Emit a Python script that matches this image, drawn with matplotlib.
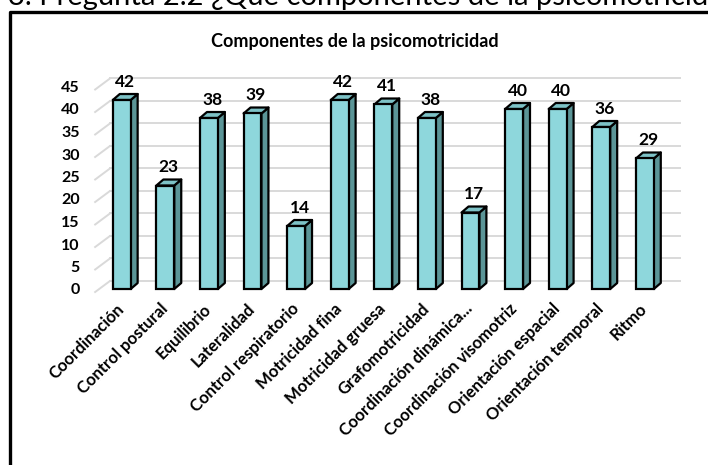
import matplotlib.pyplot as plt
from matplotlib.patches import Polygon
from matplotlib.lines import Line2D

# Datos del gráfico
componentes = ["Coordinación", "Control postural", "Equilibrio", "Lateralidad",
               "Control respiratorio", "Motricidad fina", "Motricidad gruesa",
               "Grafomotricidad", "Coordinación dinámica...", "Coordinación visomotriz",
               "Orientación espacial", "Orientación temporal", "Ritmo"]
valores = [42, 23, 38, 39, 14, 42, 41, 38, 17, 40, 40, 36, 29]
ticks_y = [0, 5, 10, 15, 20, 25, 30, 35, 40, 45]

titulo = "Componentes de la psicomotricidad"
encabezado = "3. Pregunta 2.2 ¿Qué componentes de la psicomotricidad tienen en cuenta?"

plt.rcParams['font.family'] = ['Lato', 'DejaVu Sans']

c_frente = "#8ED7DC"
c_lado = "#5B9597"
c_arriba = "#7DC2C6"
c_grid = "#D9D9D9"

W, H = 708, 465
fig = plt.figure(figsize=(W / 100, H / 100), dpi=100)

# encabezado del documento (recortado arriba)
fig.text(8 / W, 1 - 4.5 / H, encabezado, fontsize=21, va="baseline", ha="left")

# marco negro del gráfico
fig.add_artist(Line2D([10 / W, 10 / W, 1.0], [0.0, 1 - 12 / H, 1 - 12 / H],
                      color="black", lw=2.4, transform=fig.transFigure))

fig.text(355 / W, 1 - 42 / H, titulo, fontsize=13, fontweight="bold",
         ha="center", va="center")

ax = fig.add_axes([82.5 / W, (H - 298) / H, 601.6 / W, 225 / H])
ax.set_xlim(-0.9, 12.9)
ax.set_ylim(-2, 48)

x = list(range(len(valores)))
ancho = 0.41
dx, dy = 0.16, 1.33        # profundidad de las barras
pared_dx, pared_dy = 0.34, 1.78

# pared del fondo y lateral
for v in ticks_y:
    ax.plot([-0.27, 12.8], [v + pared_dy, v + pared_dy], color=c_grid, lw=1.4, zorder=1)
    ax.plot([-0.27 - pared_dx, -0.27], [v + pared_dy - 2.45, v + pared_dy],
            color=c_grid, lw=1.4, zorder=1)

ax.bar(x, valores, width=ancho, color=c_frente, edgecolor="black", linewidth=1.6, zorder=4)
for xi, v in zip(x, valores):
    r = xi + ancho / 2
    l = xi - ancho / 2
    ax.add_patch(Polygon([(r, 0), (r + dx, dy), (r + dx, v + dy), (r, v)],
                         closed=True, facecolor=c_lado, edgecolor="black",
                         linewidth=1.6, zorder=3, joinstyle="round"))
    ax.add_patch(Polygon([(l, v), (l + dx, v + dy), (r + dx, v + dy), (r, v)],
                         closed=True, facecolor=c_arriba, edgecolor="black",
                         linewidth=1.6, zorder=3, joinstyle="round"))
    ax.annotate(str(v), (xi + dx / 2, v), xytext=(0, 9.7), textcoords="offset points",
                ha="center", va="baseline", fontsize=12.5, fontweight="bold")

ax.set_yticks(ticks_y)
ax.set_yticklabels([str(t) for t in ticks_y], fontsize=11.5, fontweight="bold")
ax.set_xticks(x)
ax.set_xticklabels(componentes, rotation=45, ha="right", va="center",
                   rotation_mode="anchor", fontsize=12, fontweight="bold")
ax.tick_params(axis="both", length=0)
ax.tick_params(axis="y", pad=2)
ax.tick_params(axis="x", pad=6)
for s in ax.spines.values():
    s.set_visible(False)
ax.set_facecolor("none")

fig.savefig("out.png", dpi=100)
